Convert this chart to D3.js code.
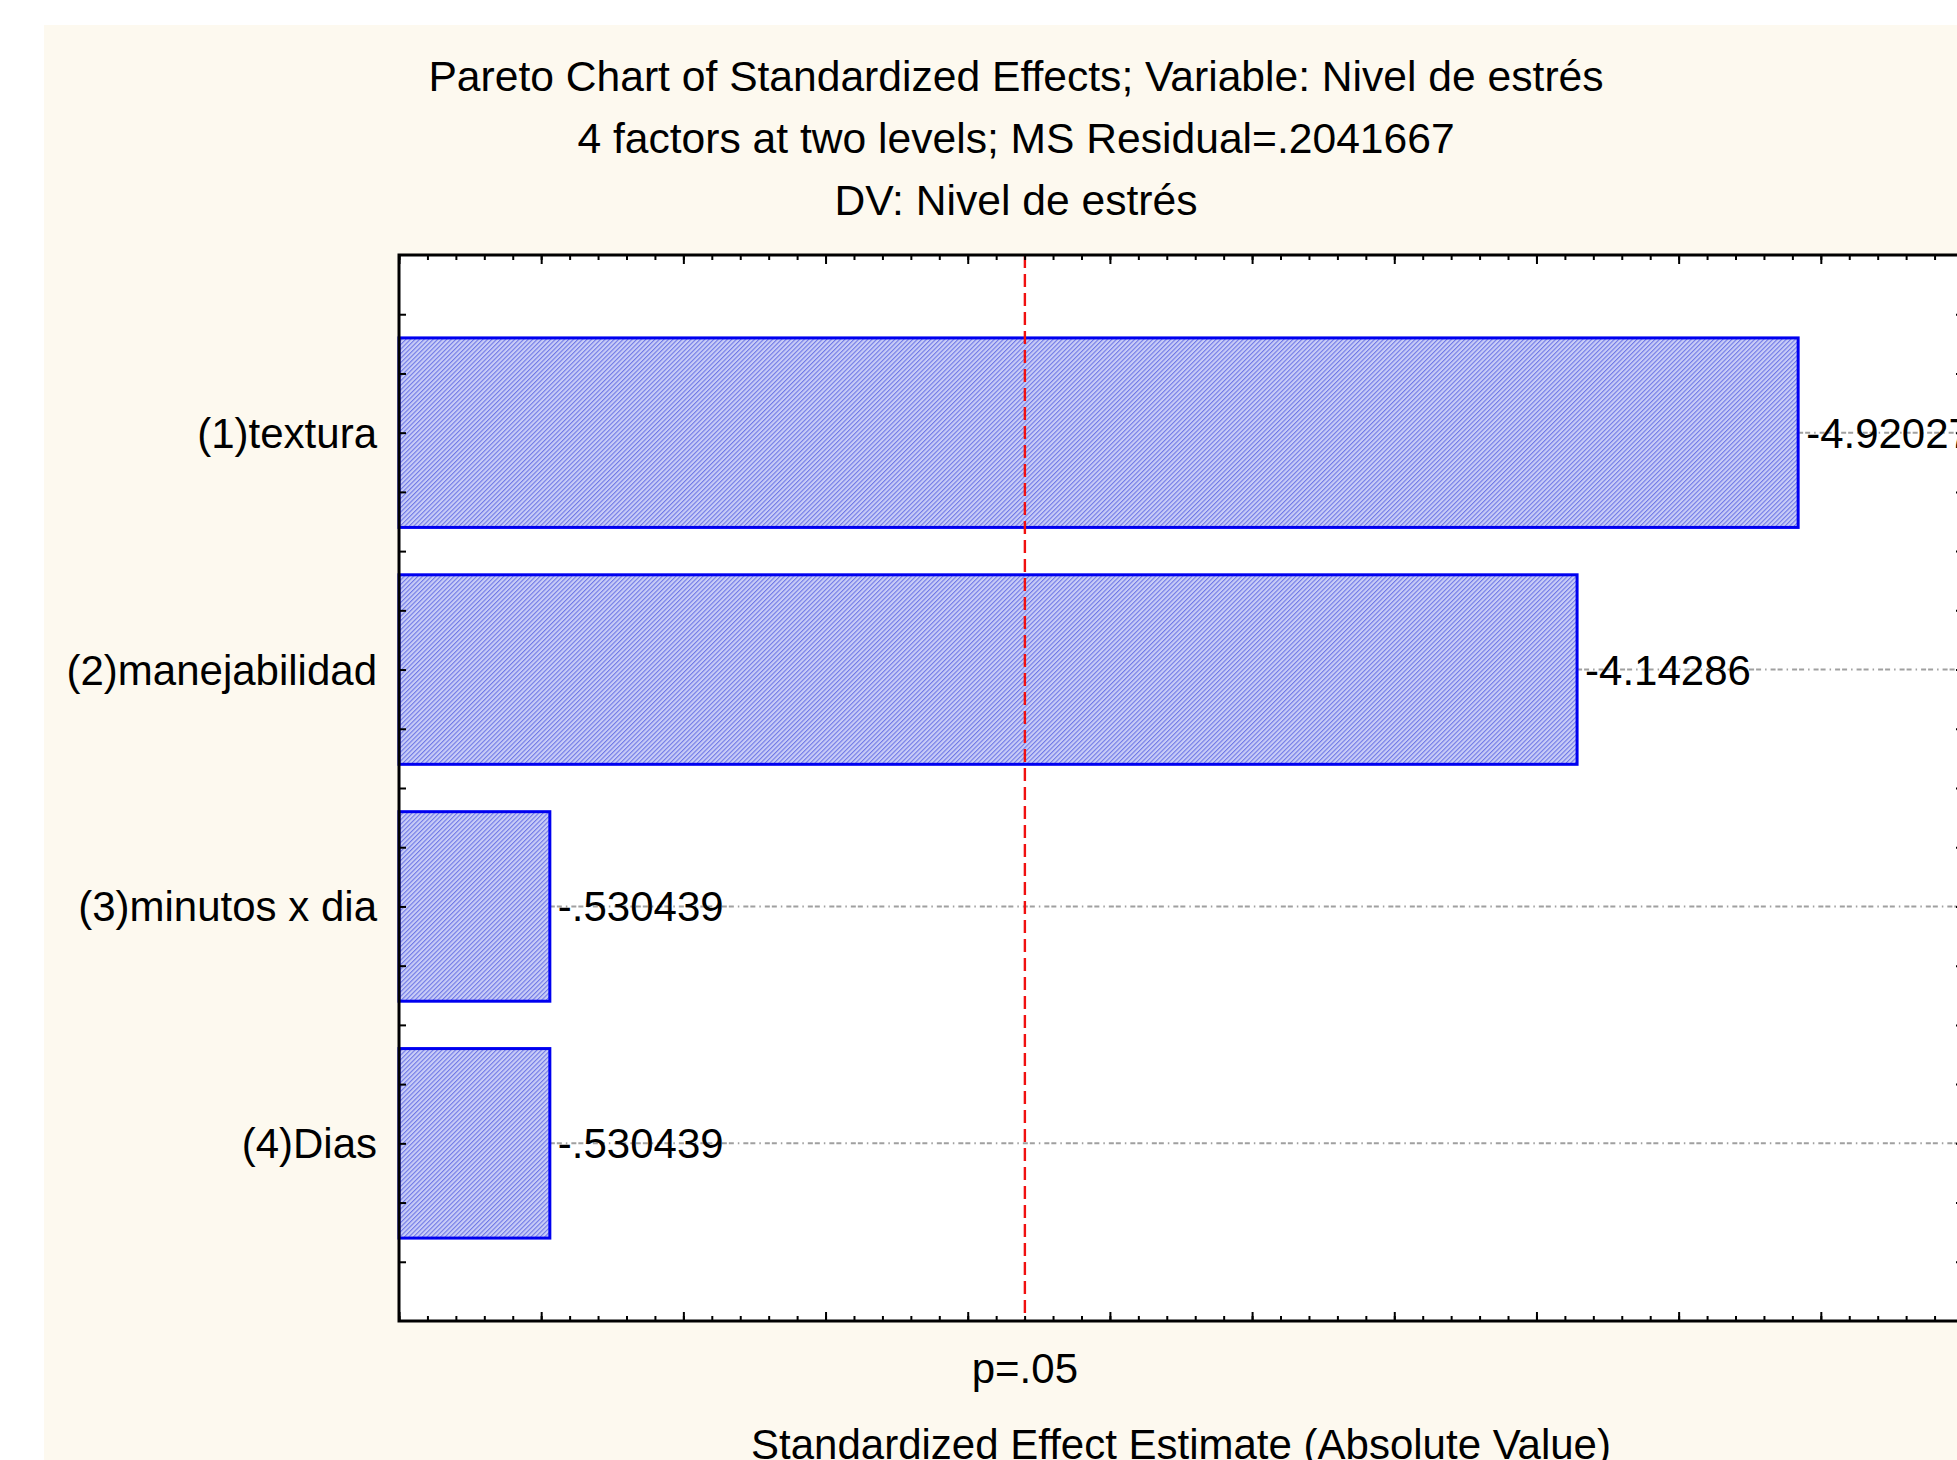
<!DOCTYPE html>
<html>
<head>
<meta charset="utf-8">
<script src="https://cdn.jsdelivr.net/npm/d3@7"></script>
<style>
  body { margin: 0; background: #ffffff; }
  svg { display: block; }
  text { font-family: "Liberation Sans", Arial, sans-serif; fill: #000; }
</style>
</head>
<body>
<div id="chart"></div>
<script>
// Data
const titleLines = [
  'Pareto Chart of Standardized Effects; Variable: Nivel de estrés',
  '4 factors at two levels; MS Residual=.2041667',
  'DV: Nivel de estrés'
]
const factors = ['(1)textura', '(2)manejabilidad', '(3)minutos x dia', '(4)Dias']
const effects = [-4.92027, -4.14286, -0.530439, -0.530439]
const effectLabels = ['-4.92027', '-4.14286', '-.530439', '-.530439']
const pCritical = 2.201
const pLabel = 'p=.05'
const xTitle = 'Standardized Effect Estimate (Absolute Value)'

// Dimensions
let dimensions = {
  width: 1957,
  height: 1460,
  margin: { top: 255, bottom: 139, left: 399, right: -6 }
}
dimensions.ctrWidth = dimensions.width - dimensions.margin.left - dimensions.margin.right
dimensions.ctrHeight = dimensions.height - dimensions.margin.top - dimensions.margin.bottom

const svg = d3.select('#chart')
  .append('svg')
  .attr('width', dimensions.width)
  .attr('height', dimensions.height)

// hatch pattern for bars
const defs = svg.append('defs')
const pat = defs.append('pattern')
  .attr('id', 'hatch')
  .attr('patternUnits', 'userSpaceOnUse')
  .attr('width', 3.2)
  .attr('height', 3.2)
  .attr('patternTransform', 'rotate(45)')
pat.append('rect').attr('width', 3.2).attr('height', 3.2).attr('fill', '#c9cdf7')
pat.append('rect').attr('width', 1.1).attr('height', 3.2).attr('fill', '#6f78e6')

// background panel
svg.append('rect')
  .attr('x', 44).attr('y', 25)
  .attr('width', dimensions.width).attr('height', dimensions.height)
  .attr('fill', '#fdf9ef')

const ctr = svg.append('g')
  .attr('transform', `translate(${dimensions.margin.left}, ${dimensions.margin.top})`)

ctr.append('rect')
  .attr('width', dimensions.ctrWidth)
  .attr('height', dimensions.ctrHeight)
  .attr('fill', '#ffffff')

// scales
const xScale = d3.scaleLinear()
  .domain([0, 5.5])
  .range([0, dimensions.ctrWidth])

const yScale = d3.scaleLinear()
  .domain([0.25, 4.75])
  .range([0, dimensions.ctrHeight])

const data = factors.map((f, i) => ({ name: f, value: effects[i], label: effectLabels[i], pos: i + 1 }))

// reference lines behind labels
ctr.selectAll('line.ref')
  .data(data)
  .join('line')
  .attr('class', 'ref')
  .attr('x1', d => xScale(Math.abs(d.value)))
  .attr('x2', dimensions.ctrWidth)
  .attr('y1', d => yScale(d.pos))
  .attr('y2', d => yScale(d.pos))
  .attr('stroke', '#a0a0a0')
  .attr('stroke-width', 2)
  .attr('stroke-dasharray', '5,2,5,4,1.5,4')

// bars
const barH = yScale(1.4) - yScale(0.6)
ctr.selectAll('rect.bar')
  .data(data)
  .join('rect')
  .attr('class', 'bar')
  .attr('x', 0)
  .attr('y', d => yScale(d.pos) - barH / 2)
  .attr('width', d => xScale(Math.abs(d.value)))
  .attr('height', barH)
  .attr('fill', 'url(#hatch)')
  .attr('stroke', '#0000f0')
  .attr('stroke-width', 3)

// value labels
ctr.selectAll('text.val')
  .data(data)
  .join('text')
  .attr('class', 'val')
  .attr('x', d => xScale(Math.abs(d.value)) + 8)
  .attr('y', d => yScale(d.pos) + 15)
  .attr('font-size', 42)
  .text(d => d.label)

// p = .05 line
ctr.append('line')
  .attr('x1', xScale(pCritical)).attr('x2', xScale(pCritical))
  .attr('y1', 0).attr('y2', dimensions.ctrHeight)
  .attr('stroke', '#f01010')
  .attr('stroke-width', 2.4)
  .attr('stroke-dasharray', '13,6')

// axes
const xMajor = d3.range(0, 5.51, 0.5)
const xMinor = d3.range(0, 5.51, 0.1)
const yTicks = d3.range(0.5, 4.51, 0.25)

function tickAxis(axisFn, scale, values, size) {
  return axisFn(scale).tickValues(values).tickSize(size).tickFormat('').tickSizeOuter(0)
}

const axisGroups = [
  { fn: d3.axisBottom, scale: xScale, tr: 'translate(0,0)', sets: [[xMinor, 5], [xMajor, 9]] },
  { fn: d3.axisTop, scale: xScale, tr: `translate(0,${dimensions.ctrHeight})`, sets: [[xMinor, 5], [xMajor, 9]] },
  { fn: d3.axisRight, scale: yScale, tr: 'translate(0,0)', sets: [[yTicks, 7]] },
  { fn: d3.axisLeft, scale: yScale, tr: `translate(${dimensions.ctrWidth},0)`, sets: [[yTicks, 7]] }
]
axisGroups.forEach(a => {
  a.sets.forEach(([vals, size]) => {
    const g = ctr.append('g')
      .attr('transform', a.tr)
      .call(tickAxis(a.fn, a.scale, vals, size))
    g.select('.domain').remove()
    g.selectAll('line').attr('stroke', '#000').attr('stroke-width', 2)
  })
})

// frame
ctr.append('rect')
  .attr('width', dimensions.ctrWidth)
  .attr('height', dimensions.ctrHeight)
  .attr('fill', 'none')
  .attr('stroke', '#000')
  .attr('stroke-width', 3)

// category labels
ctr.selectAll('text.cat')
  .data(data)
  .join('text')
  .attr('class', 'cat')
  .attr('x', -22)
  .attr('y', d => yScale(d.pos) + 15)
  .attr('text-anchor', 'end')
  .attr('font-size', 42)
  .text(d => d.name)

// p label
ctr.append('text')
  .attr('x', xScale(pCritical))
  .attr('y', dimensions.ctrHeight + 62)
  .attr('text-anchor', 'middle')
  .attr('font-size', 42)
  .text(pLabel)

// x title
ctr.append('text')
  .attr('x', dimensions.ctrWidth / 2)
  .attr('y', dimensions.ctrHeight + 138)
  .attr('text-anchor', 'middle')
  .attr('font-size', 42)
  .text(xTitle)

// titles
svg.selectAll('text.title')
  .data(titleLines)
  .join('text')
  .attr('class', 'title')
  .attr('x', 1016)
  .attr('y', (d, i) => 91 + i * 62)
  .attr('text-anchor', 'middle')
  .attr('font-size', 42.6)
  .text(d => d)
</script>
</body>
</html>
